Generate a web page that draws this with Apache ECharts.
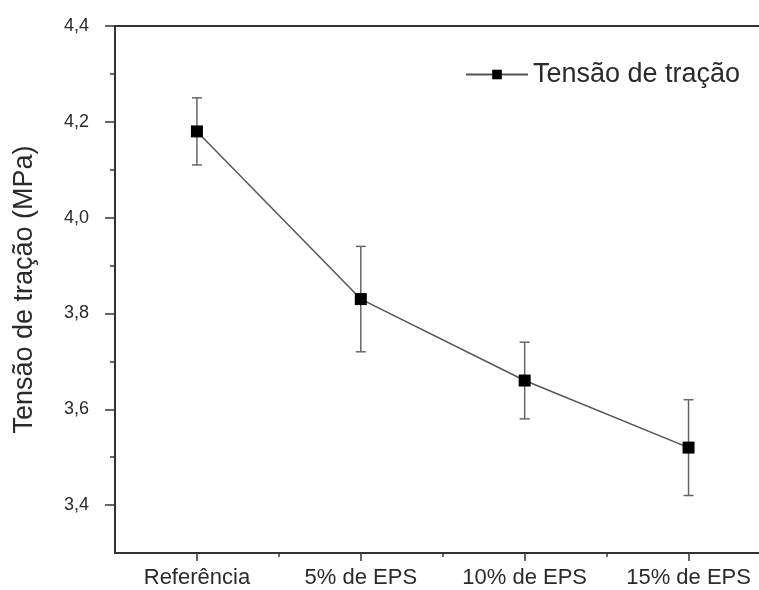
<!DOCTYPE html>
<html>
<head>
<meta charset="utf-8">
<script src="https://cdn.jsdelivr.net/npm/echarts@6/dist/echarts.min.js"></script>
<style>html,body{margin:0;padding:0;background:#fff;}#c{width:759px;height:590px;}</style>
</head>
<body>
<div id="c"></div>
<script>
var categories = ['Referência', '5% de EPS', '10% de EPS', '15% de EPS'];
var values = [4.18, 3.83, 3.66, 3.52];
var errLow = [4.11, 3.72, 3.58, 3.42];
var errHigh = [4.25, 3.94, 3.74, 3.62];
var yMajorTicks = [3.4, 3.6, 3.8, 4.0, 4.2, 4.4];
var yMinorTicks = [3.5, 3.7, 3.9, 4.1, 4.3];
var xMajorTicks = [1, 2, 3, 4];
var xMinorTicks = [1.5, 2.5, 3.5];
var seriesName = 'Tensão de tração';
var yTitle = 'Tensão de tração (MPa)';

var font = 'Liberation Sans, Arial, sans-serif';
var txt = '#2a2a2a';
var axisCol = '#333';

var lineData = values.map(function (v, i) { return [i + 1, v]; });
var errData = values.map(function (v, i) { return [i + 1, errLow[i], errHigh[i]]; });

var chart = echarts.init(document.getElementById('c'));
chart.setOption({
  animation: false,
  backgroundColor: '#fff',
  grid: { left: 115, right: 0, top: 26, bottom: 37, containLabel: false, outerBoundsMode: 'none' },
  legend: {
    data: [seriesName],
    left: 460, top: 56,
    itemWidth: 62, itemHeight: 12,
    textStyle: { fontFamily: font, fontSize: 27, color: txt }
  },
  xAxis: [
    {
      type: 'value', position: 'bottom', min: 0.5, max: 4.43,
      axisLine: { show: true, lineStyle: { color: axisCol, width: 2 } },
      splitLine: { show: false },
      axisTick: { show: true, customValues: xMajorTicks, length: 8, lineStyle: { color: axisCol, width: 1.5 } },
      axisLabel: {
        show: true, customValues: xMajorTicks, margin: 14,
        fontFamily: font, fontSize: 22, color: txt,
        formatter: function (v) { return categories[Math.round(v) - 1] || ''; }
      }
    },
    {
      type: 'value', position: 'bottom', min: 0.5, max: 4.43,
      axisLine: { show: false },
      splitLine: { show: false },
      axisTick: { show: true, customValues: xMinorTicks, length: 4, lineStyle: { color: axisCol, width: 1.5 } },
      axisLabel: { show: false }
    },
    {
      type: 'value', position: 'top', min: 0.5, max: 4.43,
      axisLine: { show: true, lineStyle: { color: axisCol, width: 2 } },
      splitLine: { show: false },
      axisTick: { show: false },
      axisLabel: { show: false }
    }
  ],
  yAxis: [
    {
      type: 'value', position: 'left', min: 3.3, max: 4.4,
      name: yTitle, nameLocation: 'middle', nameGap: 77,
      nameTextStyle: { fontFamily: font, fontSize: 27, color: txt },
      axisLine: { show: true, lineStyle: { color: axisCol, width: 2 } },
      splitLine: { show: false },
      axisTick: { show: true, customValues: yMajorTicks, length: 10, lineStyle: { color: axisCol, width: 1.5 } },
      axisLabel: {
        show: true, customValues: yMajorTicks, margin: 26,
        fontFamily: font, fontSize: 18, color: txt,
        formatter: function (v) { return v.toFixed(1).replace('.', ','); }
      }
    },
    {
      type: 'value', position: 'left', min: 3.3, max: 4.4,
      axisLine: { show: false },
      splitLine: { show: false },
      axisTick: { show: true, customValues: yMinorTicks, length: 5, lineStyle: { color: axisCol, width: 1.5 } },
      axisLabel: { show: false }
    }
  ],
  series: [
    {
      type: 'custom', name: 'err', xAxisIndex: 0, yAxisIndex: 0, z: 1,
      renderItem: function (params, api) {
        var x = api.value(0);
        var lo = api.coord([x, api.value(1)]);
        var hi = api.coord([x, api.value(2)]);
        var w = 5;
        var st = { stroke: '#666', lineWidth: 1.5 };
        return {
          type: 'group',
          children: [
            { type: 'line', shape: { x1: lo[0], y1: lo[1], x2: hi[0], y2: hi[1] }, style: st },
            { type: 'line', shape: { x1: lo[0] - w, y1: lo[1], x2: lo[0] + w, y2: lo[1] }, style: st },
            { type: 'line', shape: { x1: hi[0] - w, y1: hi[1], x2: hi[0] + w, y2: hi[1] }, style: st }
          ]
        };
      },
      data: errData
    },
    {
      type: 'line', name: seriesName, xAxisIndex: 0, yAxisIndex: 0, z: 3,
      data: lineData,
      symbol: 'rect', symbolSize: 12,
      itemStyle: { color: '#000' },
      lineStyle: { color: '#555', width: 1.5 }
    }
  ]
});
</script>
</body>
</html>
